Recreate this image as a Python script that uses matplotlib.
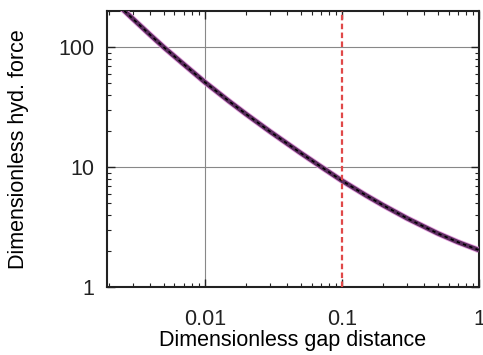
import numpy as np
import matplotlib
matplotlib.use("Agg")
import matplotlib.pyplot as plt
from matplotlib.ticker import LogLocator, FixedLocator, FixedFormatter, NullFormatter

plt.rcParams['font.family'] = ['Liberation Sans', 'DejaVu Sans']

# values
gap = [0.0022, 0.0025, 0.003, 0.004, 0.005, 0.007, 0.01, 0.015, 0.02, 0.03,
       0.05, 0.07, 0.1, 0.15, 0.2, 0.3, 0.5, 0.7, 1.0]
force = [240, 208, 171, 126, 100, 72, 51, 35.4, 27.6, 19.7,
         13.1, 10.1, 7.7, 5.8, 4.8, 3.73, 2.8, 2.37, 2.03]
cutoff = 0.1

x_ticks = [0.01, 0.1, 1]
x_labels = ['0.01', '0.1', '1']
y_ticks = [1, 10, 100]
y_labels = ['1', '10', '100']

fig = plt.figure(figsize=(4.83, 3.55), dpi=100)
ax = fig.add_axes([0.2215, 0.1915, 0.7702, 0.7775])

ax.set_xscale('log')
ax.set_yscale('log')
ax.set_xlim(0.00193, 1.0)
ax.set_ylim(1, 200)

# grid only at labelled decades
for xv in [0.01]:
    ax.axvline(xv, color='#888888', lw=0.8, zorder=1)
for yv in [10, 100]:
    ax.axhline(yv, color='#888888', lw=0.8, zorder=1)

ax.plot(gap, force, color='#e6a0e0', lw=4.4, solid_capstyle='butt', zorder=3)
ax.plot(gap, force, color='#5b2d5e', lw=3.2, solid_capstyle='butt', zorder=4)
ax.plot(gap, force, color='black', lw=1.2, ls=(0, (2, 2)), zorder=5)
ax.axvline(cutoff, color='#e04848', lw=1.6, ls=(0, (2.5, 1.5)), zorder=6)

ax.xaxis.set_major_locator(FixedLocator(x_ticks))
ax.xaxis.set_major_formatter(FixedFormatter(x_labels))
ax.yaxis.set_major_locator(FixedLocator(y_ticks))
ax.yaxis.set_major_formatter(FixedFormatter(y_labels))
ax.xaxis.set_minor_locator(LogLocator(base=10, subs=np.arange(2, 10), numticks=20))
ax.yaxis.set_minor_locator(LogLocator(base=10, subs=np.arange(2, 10), numticks=20))
ax.xaxis.set_minor_formatter(NullFormatter())
ax.yaxis.set_minor_formatter(NullFormatter())

ax.tick_params(which='both', direction='in', top=True, right=True, colors='#222222')
ax.tick_params(which='major', length=6, width=1.0, labelsize=15.5)
ax.tick_params(axis='x', which='major', pad=16)
ax.tick_params(axis='y', which='major', pad=9)
ax.tick_params(which='minor', length=3, width=0.8)
for s in ax.spines.values():
    s.set_linewidth(1.5)
    s.set_color('#222222')

ax.set_xlabel('Dimensionless gap distance', fontsize=15.5, labelpad=0)
ax.set_ylabel('Dimensionless hyd. force', fontsize=15.5, labelpad=21)

fig.savefig('out.png', dpi=100)
